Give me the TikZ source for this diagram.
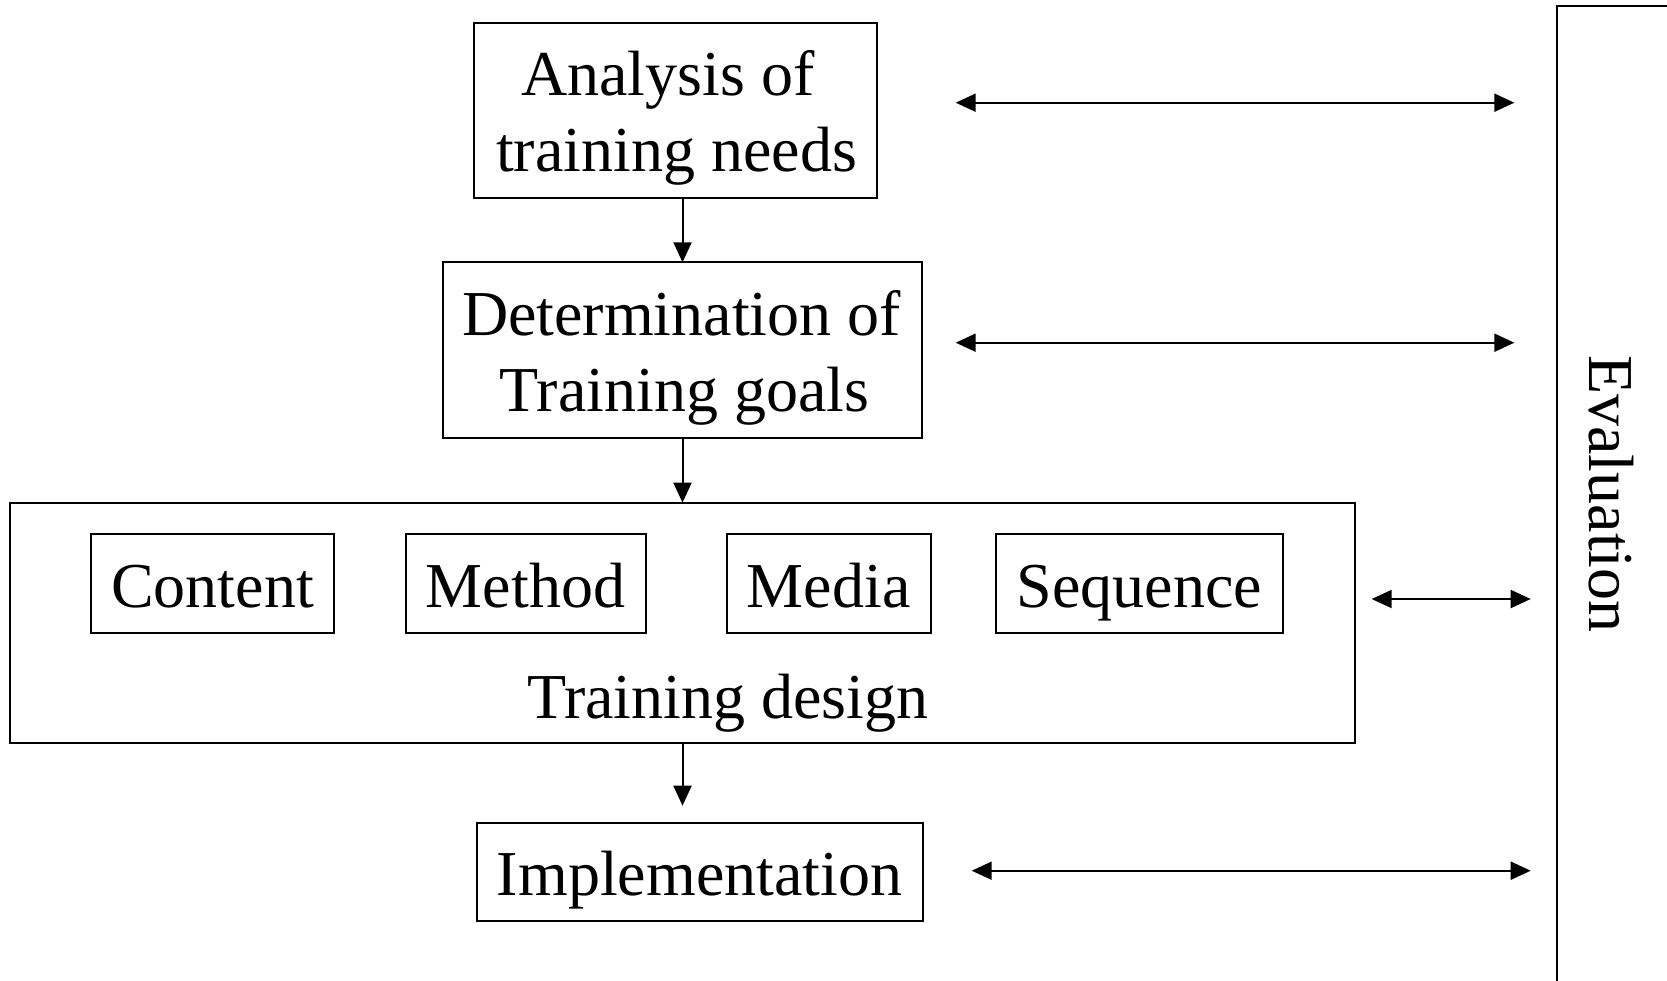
\documentclass[tikz,border=0pt]{standalone}
\usepackage{fontspec}
\setmainfont{Liberation Serif}
\usetikzlibrary{arrows.meta}
\begin{document}
\begin{tikzpicture}[x=1pt,y=-1pt,
  box/.style={draw, line width=2pt, inner sep=0pt, outer sep=0pt},
  txt/.style={anchor=base, inner sep=0pt, font=\fontsize{64}{77}\selectfont},
  arr/.style={line width=2pt, -{Triangle[length=20pt,width=18pt]}},
  darr/.style={line width=2pt, {Triangle[length=20pt,width=18pt]}-{Triangle[length=20pt,width=18pt]}}]
\useasboundingbox (0,0) rectangle (1667,980);
\fill[white] (0,0) rectangle (1667,980);
\begin{scope}
\clip (0,0) rectangle (1667,980);
% boxes
\node[box, minimum width=402.4pt, minimum height=175.6pt] (A) at (675.5,110.5) {};
\node[box, minimum width=479.6pt, minimum height=175.4pt] (D) at (682.5,350) {};
\node[box, minimum width=1345pt, minimum height=240.3pt] (TD) at (682.8,622.85) {};
\node[box, minimum width=243.4pt, minimum height=98.7pt] (C) at (212.3,583.65) {};
\node[box, minimum width=240.2pt, minimum height=98.7pt] (M) at (525.9,583.65) {};
\node[box, minimum width=204.5pt, minimum height=98.7pt] (Me) at (828.75,583.65) {};
\node[box, minimum width=287.1pt, minimum height=98.7pt] (S) at (1139.45,583.65) {};
\node[box, minimum width=446pt, minimum height=98.3pt] (I) at (699.7,871.85) {};
\node[box, minimum width=300pt, minimum height=1100pt, anchor=north west] (E) at (1557.3,6.25) {};
% texts
\node[txt] (At1) at (668,95) {Analysis of};
\node[txt] (At2) at (676.5,171.7) {training needs};
\node[txt] (Dt1) at (681.5,335) {Determination of};
\node[txt] (Dt2) at (684.5,411.7) {Training goals};
\node[txt] (Ct) at (212.5,607.3) {Content};
\node[txt] (Mt) at (525.5,607.3) {Method};
\node[txt] (Met) at (828.7,607.3) {Media};
\node[txt] (St) at (1139.5,607.3) {Sequence};
\node[txt] (TDt) at (728,718.3) {Training design};
\node[txt] (It) at (699.5,895.7) {Implementation};
\node[txt, rotate=-90, anchor=center] (Et) at (1611,494) {Evaluation};
% vertical arrows
\draw[arr] (D.north |- A.south) -- (D.north);
\draw[arr] (D.south) -- (D.south |- TD.north);
\draw[arr, shorten >=17pt] (D.south |- TD.south) -- (D.south |- I.north);
% horizontal double arrows
\coordinate (h1a) at (955.7,102.7);
\coordinate (h1b) at (1514.3,102.7);
\coordinate (h2a) at (955.7,342.7);
\coordinate (h2b) at (1514.3,342.7);
\coordinate (h3a) at (1371.7,599);
\coordinate (h3b) at (1530.7,599);
\coordinate (h4a) at (971.7,870.7);
\coordinate (h4b) at (1530.7,870.7);
\draw[darr] (h1a) -- (h1b);
\draw[darr] (h2a) -- (h2b);
\draw[darr] (h3a) -- (h3b);
\draw[darr] (h4a) -- (h4b);
\end{scope}
\end{tikzpicture}
\end{document}
